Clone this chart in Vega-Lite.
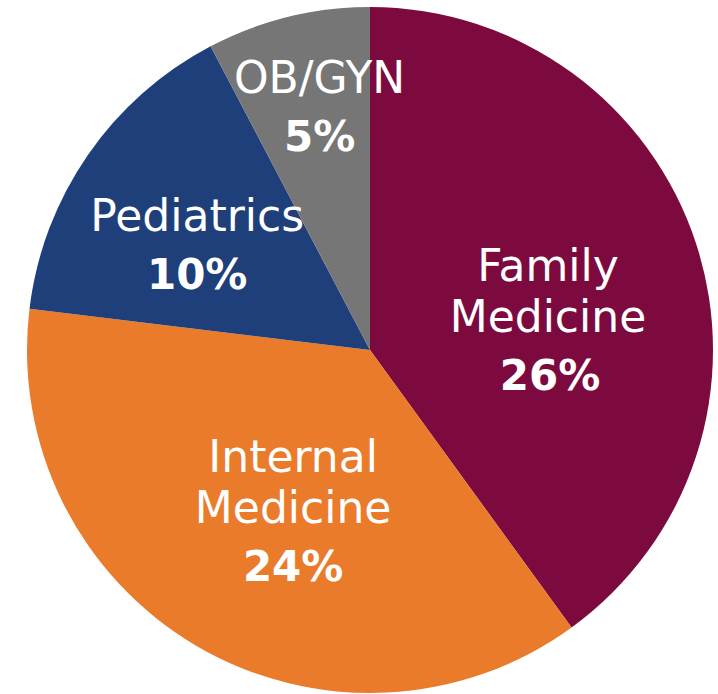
{
  "$schema": "https://vega.github.io/schema/vega-lite/v6.json",
  "width": 718,
  "height": 694,
  "autosize": {"type": "fit", "contains": "padding"},
  "padding": {"left": 22, "top": 6, "right": 0, "bottom": 0},
  "background": "white",
  "view": {"stroke": null},
  "data": {
    "values": [
      {"category": "Family Medicine", "name": "Family\nMedicine", "pct": "26%", "value": 26, "order": 1},
      {"category": "Internal Medicine", "name": "Internal\nMedicine", "pct": "24%", "value": 24, "order": 2},
      {"category": "Pediatrics", "name": "Pediatrics", "pct": "10%", "value": 10, "order": 3},
      {"category": "OB/GYN", "name": "OB/GYN", "pct": "5%", "value": 5, "order": 4}
    ]
  },
  "encoding": {
    "theta": {"field": "value", "type": "quantitative", "stack": true},
    "order": {"field": "order", "type": "quantitative"}
  },
  "layer": [
    {
      "mark": {"type": "arc", "outerRadius": 343},
      "encoding": {
        "color": {
          "field": "category",
          "type": "nominal",
          "scale": {
            "domain": ["Family Medicine", "Internal Medicine", "Pediatrics", "OB/GYN"],
            "range": ["#7c0a3e", "#e97b2b", "#1f3f7b", "#767676"]
          },
          "legend": null
        }
      }
    },
    {
      "mark": {
        "type": "text",
        "font": "DejaVu Sans",
        "fontSize": 44,
        "lineHeight": 51,
        "lineBreak": "\n",
        "color": "white",
        "align": "center",
        "baseline": "bottom",
        "radius": {"expr": "datum.category === 'Family Medicine' ? 185 : datum.category === 'Internal Medicine' ? 195 : datum.category === 'Pediatrics' ? 210 : 265"},
        "dx": {"expr": "datum.category === 'Family Medicine' ? 2 : datum.category === 'Internal Medicine' ? 22 : datum.category === 'Pediatrics' ? 0 : 13"},
        "dy": {"expr": "datum.category === 'Family Medicine' ? 39 + 9 - 51 : datum.category === 'Internal Medicine' ? 14 - 51 : 9"}
      },
      "encoding": {"text": {"field": "name", "type": "nominal"}}
    },
    {
      "mark": {
        "type": "text",
        "font": "DejaVu Sans",
        "fontWeight": "bold",
        "fontSize": 42,
        "color": "white",
        "align": "center",
        "baseline": "alphabetic",
        "radius": {"expr": "datum.category === 'Family Medicine' ? 185 : datum.category === 'Internal Medicine' ? 195 : datum.category === 'Pediatrics' ? 210 : 265"},
        "dx": {"expr": "datum.category === 'Family Medicine' ? 4 : datum.category === 'Internal Medicine' ? 22 : datum.category === 'Pediatrics' ? 0 : 13"},
        "dy": {"expr": "datum.category === 'Family Medicine' ? 97 : datum.category === 'Internal Medicine' ? 63 : 58"}
      },
      "encoding": {"text": {"field": "pct", "type": "nominal"}}
    }
  ]
}
